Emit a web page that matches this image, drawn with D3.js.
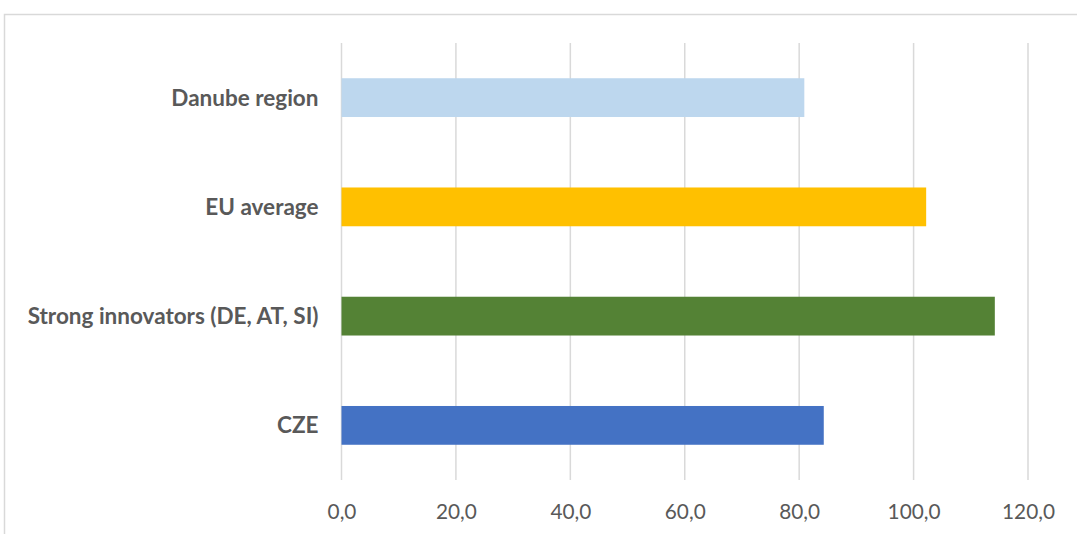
<!DOCTYPE html>
<html>
<head>
<meta charset="utf-8">
<script src="https://cdn.jsdelivr.net/npm/d3@7"></script>
<style>
  html, body { margin: 0; padding: 0; background: #ffffff; }
  svg { display: block; }
</style>
</head>
<body>
<script>
// Categories, listed top to bottom
const categories = ["Danube region", "EU average", "Strong innovators (DE, AT, SI)", "CZE"];
const values = [80.9, 102.2, 114.2, 84.3];
const colors = ["#bdd7ee", "#ffc000", "#548235", "#4472c4"];
const tickValues = [0, 20, 40, 60, 80, 100, 120];

const width = 1077, height = 534;
const margin = { left: 341.5, right: 49, top: 43, bottom: 54 };

const svg = d3.select("body").append("svg")
  .attr("width", width)
  .attr("height", height);

// chart area border (extends past the right and bottom edges)
svg.append("rect")
  .attr("x", 4.5).attr("y", 14.5)
  .attr("width", width + 10).attr("height", height + 10)
  .attr("fill", "#ffffff")
  .attr("stroke", "#d9d9d9")
  .attr("stroke-width", 1.5);

const x = d3.scaleLinear()
  .domain([0, 120])
  .range([margin.left, width - margin.right]);

const y = d3.scaleBand()
  .domain(categories)
  .range([margin.top, height - margin.bottom])
  .paddingInner(0.645)
  .paddingOuter(0.3225);

// vertical gridlines
svg.append("g")
  .selectAll("line")
  .data(tickValues)
  .join("line")
  .attr("x1", d => x(d)).attr("x2", d => x(d))
  .attr("y1", margin.top).attr("y2", height - margin.bottom)
  .attr("stroke", "#d9d9d9")
  .attr("stroke-width", 1.5);

// bars
svg.append("g")
  .selectAll("rect")
  .data(categories)
  .join("rect")
  .attr("x", x(0))
  .attr("y", d => y(d))
  .attr("width", (d, i) => x(values[i]) - x(0))
  .attr("height", y.bandwidth())
  .attr("fill", (d, i) => colors[i]);

// x axis tick labels
const fmt = d => d3.format(".1f")(d).replace(".", ",");
const xAxis = d3.axisBottom(x)
  .tickValues(tickValues)
  .tickFormat(fmt)
  .tickSize(0)
  .tickPadding(0);

const gx = svg.append("g")
  .attr("transform", `translate(0, ${height - margin.bottom})`)
  .call(xAxis);
gx.select(".domain").remove();
gx.selectAll("text")
  .attr("y", 39)
  .attr("dy", 0)
  .attr("fill", "#595959")
  .style("font-family", "Lato, 'Open Sans', sans-serif")
  .style("font-size", "20.8px");

// category labels
const yAxis = d3.axisLeft(y).tickSize(0).tickPadding(0);
const gy = svg.append("g")
  .attr("transform", `translate(${margin.left - 23}, 0)`)
  .call(yAxis);
gy.select(".domain").remove();
gy.selectAll("text")
  .attr("fill", "#595959")
  .attr("dy", "0.35em")
  .style("font-family", "Lato, 'Open Sans', sans-serif")
  .style("font-weight", "bold")
  .style("font-size", "22.5px");
</script>
</body>
</html>
